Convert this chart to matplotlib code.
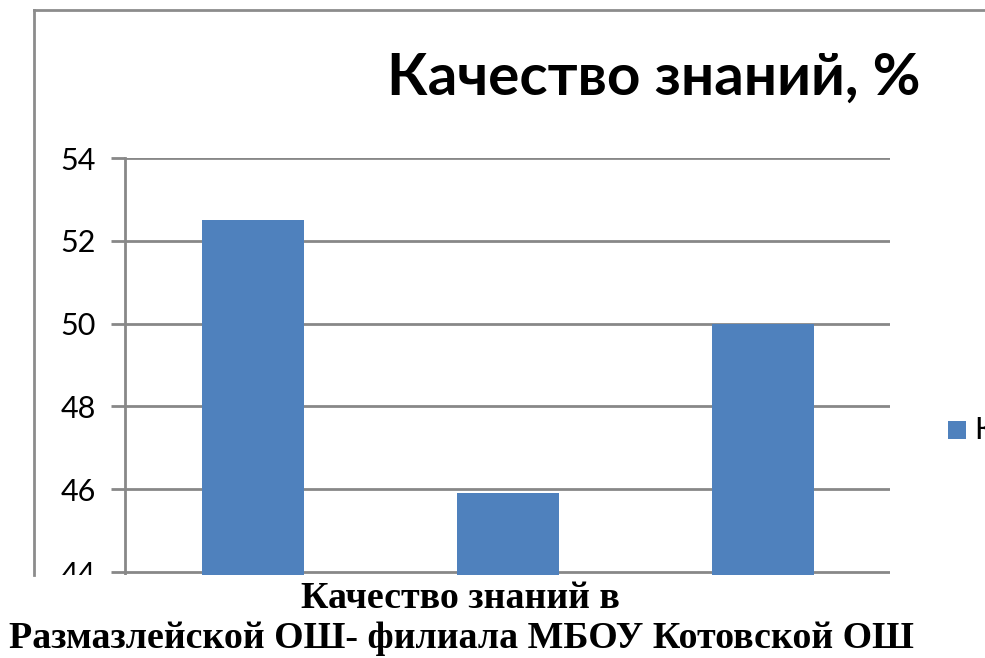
import matplotlib
matplotlib.use("Agg")
import matplotlib.pyplot as plt
from matplotlib.patches import Rectangle
from matplotlib.lines import Line2D

# данные диаграммы
categories = [0, 1, 2]
values = [52.5, 45.9, 50.0]
yticks = [44, 46, 48, 50, 52, 54]
title = "Качество знаний, %"
series_label = "Качество знаний"
xlabel_lines = ["Качество знаний в", "Размазлейской ОШ- филиала МБОУ Котовской ОШ"]

W, H = 985, 658
fig = plt.figure(figsize=(W / 100, H / 100), dpi=100)
fig.patch.set_facecolor("white")

def fx(px):
    return px / W

def fy(py):
    return 1 - py / H

grid_col = "#888888"
bar_col = "#4f81bd"

# plot area: 54 at y=158, 44 at y=572, extend lower to 43 (hidden below)
y_top, y_bot = 158, 572 + (572 - 158) / 10
ax = fig.add_axes([fx(125), fy(y_bot), fx(890) - fx(125), fy(y_top) - fy(y_bot)])
ax.bar(categories, values, width=0.4, color=bar_col, zorder=3)
ax.set_xlim(-0.5, 2.5)
ax.set_ylim(43, 54)
ax.set_yticks(yticks)
ax.set_yticklabels([str(t) for t in yticks], fontsize=22, family="Lato")
ax.set_xticks([])
ax.yaxis.grid(True, color=grid_col, linewidth=2)
ax.tick_params(axis="y", length=10, width=2, color=grid_col, pad=11)
for s in ["top", "right", "bottom"]:
    ax.spines[s].set_visible(False)
ax.spines["left"].set_color(grid_col)
ax.spines["left"].set_linewidth(2)

# white area below the plot (covers the cut-off bottom)
fig.patches.append(Rectangle((0, 0), 1, fy(575), transform=fig.transFigure,
                             facecolor="white", edgecolor="none", zorder=5))

# outer chart frame (partly cut)
fig.lines.append(Line2D([fx(34), fx(34)], [fy(575), fy(10)], transform=fig.transFigure,
                        color="#8c8c8c", linewidth=2, zorder=6))
fig.lines.append(Line2D([fx(34), 1], [fy(10), fy(10)], transform=fig.transFigure,
                        color="#8c8c8c", linewidth=2, zorder=6))

# title
fig.text(fx(654), fy(78), title, ha="center", va="center", fontsize=42,
         fontweight="bold", family="Lato", zorder=7)

# legend (cut at right edge, as in the source)
fig.patches.append(Rectangle((fx(948), fy(439)), fx(18), 18 / H, transform=fig.transFigure,
                             facecolor=bar_col, edgecolor="none", zorder=7))
fig.text(fx(975), fy(430), series_label, ha="left", va="center", fontsize=22,
         family="Lato", zorder=7)

# category label under the chart
fig.text(fx(460), fy(598), xlabel_lines[0], ha="center", va="center", fontsize=27.3,
         fontweight="bold", family="Liberation Serif", zorder=7)
fig.text(fx(461), fy(638), xlabel_lines[1], ha="center", va="center", fontsize=27.3,
         fontweight="bold", family="Liberation Serif", zorder=7)

fig.savefig("out.png", dpi=100)
